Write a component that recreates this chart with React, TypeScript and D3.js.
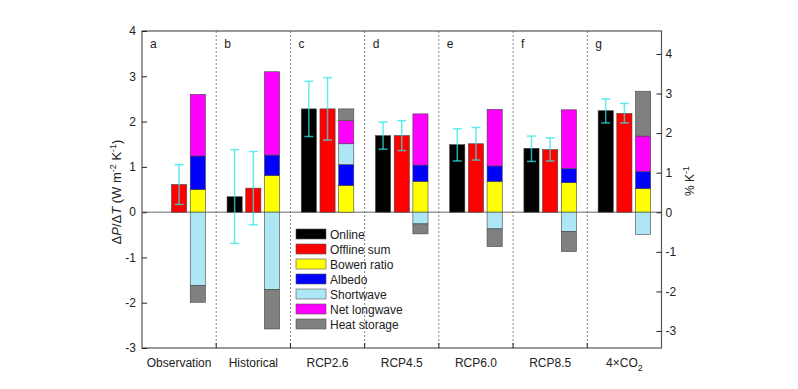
import React, { useRef, useEffect } from "react";
import * as d3 from "d3";

// scenarios along the x axis, one panel each
const scenarios = ["Observation", "Historical", "RCP2.6", "RCP4.5", "RCP6.0", "RCP8.5", "4×CO2"];
const panelLetters = ["a", "b", "c", "d", "e", "f", "g"];

// online (black) and offline sum (red) with their ranges
const online = [null, 0.34, 2.28, 1.69, 1.49, 1.41, 2.24];
const onlineLow = [null, -0.69, 1.67, 1.39, 1.13, 1.12, 1.97];
const onlineHigh = [null, 1.38, 2.89, 1.99, 1.84, 1.68, 2.5];
const offline = [0.61, 0.53, 2.28, 1.69, 1.51, 1.38, 2.18];
const offlineLow = [0.17, -0.28, 1.59, 1.36, 1.15, 1.13, 1.97];
const offlineHigh = [1.05, 1.34, 2.97, 2.02, 1.87, 1.64, 2.4];

// components of the offline sum (stacked bar)
const bowenRatio = [0.5, 0.81, 0.59, 0.68, 0.68, 0.65, 0.52];
const albedo = [0.74, 0.45, 0.46, 0.36, 0.34, 0.31, 0.38];
const shortwave = [-1.62, -1.71, 0.46, -0.26, -0.37, -0.43, -0.49];
const netLongwave = [1.36, 1.84, 0.51, 1.13, 1.25, 1.3, 0.78];
const heatStorage = [-0.37, -0.87, 0.26, -0.22, -0.39, -0.44, 0.99];

const legendLabels = ["Online", "Offline sum", "Bowen ratio", "Albedo", "Shortwave", "Net longwave", "Heat storage"];
const leftTicks = [-3, -2, -1, 0, 1, 2, 3, 4];
const rightTicks = [-3, -2, -1, 0, 1, 2, 3, 4];

const colors = ["#000000", "#ff0000", "#ffff00", "#0000ff", "#aee6f6", "#ff00ff", "#808080"];
const componentKeys = ["bowen", "albedo", "shortwave", "longwave", "storage"];
const componentColors = ["#ffff00", "#0000ff", "#aee6f6", "#ff00ff", "#808080"];

const App = () => {
  const ref = useRef<SVGSVGElement>(null);

  useEffect(() => {
    const width = 798;
    const height = 389;
    const left = 142;
    const right = 661.5;
    const top = 31;
    const bottom = 348;
    const font = "Arial, 'Liberation Sans', sans-serif";

    const svg = d3.select(ref.current);
    svg.selectAll("*").remove();
    svg.attr("width", width).attr("height", height);

    const y = d3.scaleLinear().domain([-3, 4]).range([bottom, top]);
    const yR = d3.scaleLinear().domain([-3.43, 4.58]).range([bottom, top]);

    const xPanel = d3.scaleBand<string>().domain(scenarios).range([left, right]).padding(0);
    const xInner = d3
      .scaleBand<string>()
      .domain(["online", "offline", "stack"])
      .range([0, xPanel.bandwidth()])
      .paddingInner(0.19)
      .paddingOuter(0.58);

    // stacked components
    const rows = scenarios.map((s, i) => ({
      scenario: s,
      bowen: bowenRatio[i],
      albedo: albedo[i],
      shortwave: shortwave[i],
      longwave: netLongwave[i],
      storage: heatStorage[i],
    }));
    const stacked = d3
      .stack<any>()
      .keys(componentKeys)
      .offset(d3.stackOffsetDiverging)(rows);

    // zero line
    svg.append("line")
      .attr("x1", left).attr("x2", right)
      .attr("y1", y(0)).attr("y2", y(0))
      .attr("stroke", "#999").attr("stroke-width", 1.5);

    // panel dividers
    svg.append("g")
      .selectAll("line")
      .data(scenarios.slice(1))
      .join("line")
      .attr("x1", (d) => xPanel(d)!).attr("x2", (d) => xPanel(d)!)
      .attr("y1", top).attr("y2", bottom)
      .attr("stroke", "#666").attr("stroke-width", 0.8)
      .attr("stroke-dasharray", "2,2");

    // online and offline bars
    const bars = svg.append("g").attr("stroke", "#444").attr("stroke-width", 0.6);
    scenarios.forEach((s, i) => {
      const x0 = xPanel(s)!;
      if (online[i] != null) {
        bars.append("rect")
          .attr("x", x0 + xInner("online")!)
          .attr("width", xInner.bandwidth())
          .attr("y", y(online[i] as number))
          .attr("height", y(0) - y(online[i] as number))
          .attr("fill", colors[0]);
      }
      bars.append("rect")
        .attr("x", x0 + xInner("offline")!)
        .attr("width", xInner.bandwidth())
        .attr("y", y(offline[i]))
        .attr("height", y(0) - y(offline[i]))
        .attr("fill", colors[1]);
    });

    stacked.forEach((layer, k) => {
      layer.forEach((seg, i) => {
        if (seg[1] === seg[0]) return;
        bars.append("rect")
          .attr("x", xPanel(scenarios[i])! + xInner("stack")!)
          .attr("width", xInner.bandwidth())
          .attr("y", y(Math.max(seg[0], seg[1])))
          .attr("height", Math.abs(y(seg[0]) - y(seg[1])))
          .attr("fill", componentColors[k]);
      });
    });

    // error bars
    const err = svg.append("g")
      .attr("stroke", "#2ee6e6").attr("stroke-opacity", 0.75).attr("stroke-width", 1.5);
    const drawErr = (cx: number, lo: number, hi: number) => {
      err.append("line").attr("x1", cx).attr("x2", cx).attr("y1", y(lo)).attr("y2", y(hi));
      err.append("line").attr("x1", cx - 4.5).attr("x2", cx + 4.5).attr("y1", y(lo)).attr("y2", y(lo));
      err.append("line").attr("x1", cx - 4.5).attr("x2", cx + 4.5).attr("y1", y(hi)).attr("y2", y(hi));
    };
    scenarios.forEach((s, i) => {
      const x0 = xPanel(s)!;
      const half = xInner.bandwidth() / 2;
      if (online[i] != null) drawErr(x0 + xInner("online")! + half, onlineLow[i] as number, onlineHigh[i] as number);
      drawErr(x0 + xInner("offline")! + half, offlineLow[i], offlineHigh[i]);
    });

    // frame
    svg.append("rect")
      .attr("x", left).attr("y", top)
      .attr("width", right - left).attr("height", bottom - top)
      .attr("fill", "none").attr("stroke", "#555").attr("stroke-width", 1.2);

    // left axis
    const axL = svg.append("g")
      .attr("transform", `translate(${left},0)`)
      .call(d3.axisLeft(y).tickValues(leftTicks).tickSize(-5).tickSizeOuter(0).tickPadding(6).tickFormat((d) => String(d)));
    axL.select(".domain").remove();
    axL.selectAll(".tick line").attr("stroke", "#222");
    axL.selectAll("text").attr("font-size", 12).attr("font-family", font).attr("fill", "#222");

    // right axis
    const axR = svg.append("g")
      .attr("transform", `translate(${right},0)`)
      .call(d3.axisRight(yR).tickValues(rightTicks).tickSize(-5).tickSizeOuter(0).tickPadding(4).tickFormat((d) => String(d)));
    axR.select(".domain").remove();
    axR.selectAll(".tick line").attr("stroke", "#222");
    axR.selectAll("text").attr("font-size", 12).attr("font-family", font).attr("fill", "#222");

    // bottom ticks at panel dividers
    svg.append("g")
      .selectAll("line")
      .data(scenarios.slice(1))
      .join("line")
      .attr("x1", (d) => xPanel(d)!).attr("x2", (d) => xPanel(d)!)
      .attr("y1", bottom).attr("y2", bottom - 5)
      .attr("stroke", "#222");

    // category labels
    const cats = svg.append("g").attr("font-family", font).attr("font-size", 12).attr("fill", "#222");
    scenarios.forEach((s) => {
      const t = cats.append("text")
        .attr("x", xPanel(s)! + xPanel.bandwidth() / 2)
        .attr("y", 367)
        .attr("text-anchor", "middle");
      if (s === "4×CO2") {
        t.append("tspan").text("4×CO");
        t.append("tspan").attr("font-size", 9).attr("dy", 4).text("2");
      } else {
        t.text(s);
      }
    });

    // panel letters
    svg.append("g")
      .selectAll("text")
      .data(panelLetters)
      .join("text")
      .attr("x", (d, i) => xPanel(scenarios[i])! + 8)
      .attr("y", 48)
      .attr("font-family", font).attr("font-size", 12).attr("fill", "#222")
      .text((d) => d);

    // left axis title
    const tl = svg.append("text")
      .attr("transform", `translate(121,192) rotate(-90)`)
      .attr("text-anchor", "middle")
      .attr("font-family", font).attr("font-size", 13).attr("fill", "#222");
    tl.append("tspan").text("Δ");
    tl.append("tspan").attr("font-style", "italic").text("P");
    tl.append("tspan").text("/Δ");
    tl.append("tspan").attr("font-style", "italic").text("T");
    tl.append("tspan").text(" (W m");
    tl.append("tspan").attr("font-size", 9).attr("dy", -5).text("-2");
    tl.append("tspan").attr("dy", 5).text(" K");
    tl.append("tspan").attr("font-size", 9).attr("dy", -5).text("-1");
    tl.append("tspan").attr("dy", 5).text(")");

    // right axis title
    const tr = svg.append("text")
      .attr("transform", `translate(694,181) rotate(-90)`)
      .attr("text-anchor", "middle")
      .attr("font-family", font).attr("font-size", 12).attr("fill", "#222");
    tr.append("tspan").text("% K");
    tr.append("tspan").attr("font-size", 9).attr("dy", -5).text("-1");

    // legend
    const legend = svg.append("g").attr("transform", "translate(296,229)");
    legendLabels.forEach((label, i) => {
      legend.append("rect")
        .attr("x", 0).attr("y", i * 15)
        .attr("width", 30).attr("height", 10)
        .attr("fill", colors[i]).attr("stroke", "#555").attr("stroke-width", 0.6);
      legend.append("text")
        .attr("x", 34).attr("y", i * 15 + 9.5)
        .attr("font-family", font).attr("font-size", 12).attr("fill", "#222")
        .text(label);
    });
  }, []);

  return <svg ref={ref} style={{ position: "absolute", left: 0, top: 0 }} />;
};

export default App;
